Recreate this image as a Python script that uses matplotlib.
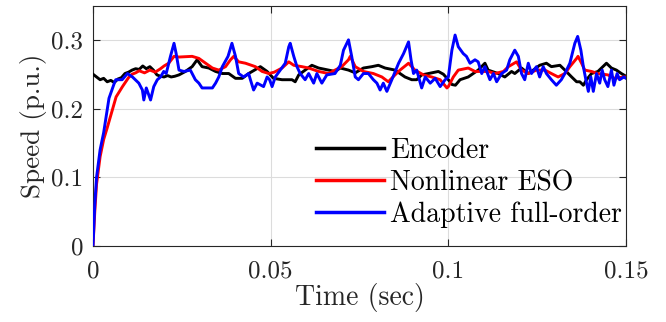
import matplotlib
matplotlib.use("Agg")
import matplotlib.pyplot as plt
import numpy as np

# ---------------- data ----------------
t_enc = [0.0000, 0.0010, 0.0020, 0.0030, 0.0040, 0.0050, 0.0060, 0.0070, 0.0080, 0.0090,
         0.0100, 0.0110, 0.0120, 0.0130, 0.0140, 0.0150, 0.0160, 0.0170, 0.0180, 0.0190,
         0.0200, 0.0210, 0.0220, 0.0230, 0.0242, 0.0260, 0.0279, 0.0293, 0.0307, 0.0326,
         0.0345, 0.0364, 0.0382, 0.0401, 0.0420, 0.0438, 0.0471, 0.0490, 0.0508, 0.0532,
         0.0560, 0.0569, 0.0579, 0.0597, 0.0616, 0.0635, 0.0663, 0.0681, 0.0696, 0.0719,
         0.0738, 0.0761, 0.0785, 0.0803, 0.0822, 0.0850, 0.0864, 0.0878, 0.0897, 0.0911,
         0.0925, 0.0944, 0.0972, 0.0986, 0.1000, 0.1010, 0.1020, 0.1033, 0.1056, 0.1084,
         0.1103, 0.1112, 0.1140, 0.1159, 0.1178, 0.1187, 0.1206, 0.1225, 0.1239, 0.1257,
         0.1276, 0.1290, 0.1314, 0.1328, 0.1347, 0.1361, 0.1370, 0.1380, 0.1389, 0.1403,
         0.1421, 0.1435, 0.1445, 0.1459, 0.1473, 0.1487, 0.1500]
v_enc = [0.250, 0.246, 0.242, 0.244, 0.239, 0.241, 0.238, 0.243, 0.245, 0.251,
         0.253, 0.256, 0.258, 0.257, 0.262, 0.258, 0.261, 0.256, 0.249, 0.247,
         0.246, 0.248, 0.246, 0.247, 0.249, 0.254, 0.261, 0.271, 0.261, 0.259,
         0.254, 0.251, 0.251, 0.244, 0.244, 0.251, 0.261, 0.254, 0.244, 0.242,
         0.242, 0.239, 0.249, 0.256, 0.263, 0.259, 0.256, 0.254, 0.259, 0.256,
         0.252, 0.259, 0.261, 0.263, 0.259, 0.256, 0.251, 0.246, 0.242, 0.242,
         0.249, 0.251, 0.254, 0.250, 0.242, 0.235, 0.234, 0.242, 0.246, 0.256,
         0.266, 0.256, 0.251, 0.246, 0.254, 0.251, 0.259, 0.251, 0.256, 0.263,
         0.266, 0.261, 0.263, 0.256, 0.246, 0.239, 0.239, 0.234, 0.242, 0.251,
         0.254, 0.261, 0.266, 0.259, 0.256, 0.251, 0.247]

t_eso = [0.0000, 0.0005, 0.0010, 0.0020, 0.0030, 0.0040, 0.0050, 0.0065, 0.0083, 0.0100,
         0.0110, 0.0120, 0.0130, 0.0145, 0.0160, 0.0175, 0.0190, 0.0200, 0.0213, 0.0228,
         0.0242, 0.0279, 0.0298, 0.0317, 0.0336, 0.0354, 0.0373, 0.0387, 0.0396, 0.0410,
         0.0429, 0.0457, 0.0476, 0.0495, 0.0510, 0.0532, 0.0551, 0.0565, 0.0588, 0.0607,
         0.0635, 0.0663, 0.0681, 0.0700, 0.0719, 0.0724, 0.0738, 0.0761, 0.0789, 0.0813,
         0.0831, 0.0850, 0.0864, 0.0888, 0.0906, 0.0930, 0.0953, 0.0977, 0.0996, 0.1000,
         0.1014, 0.1028, 0.1056, 0.1075, 0.1112, 0.1131, 0.1155, 0.1169, 0.1192, 0.1206,
         0.1225, 0.1248, 0.1272, 0.1290, 0.1309, 0.1328, 0.1342, 0.1361, 0.1365, 0.1375,
         0.1384, 0.1403, 0.1421, 0.1449, 0.1468, 0.1494, 0.1500]
v_eso = [0.000, 0.050, 0.090, 0.130, 0.155, 0.172, 0.190, 0.217, 0.232, 0.245,
         0.250, 0.252, 0.255, 0.252, 0.256, 0.253, 0.258, 0.262, 0.266, 0.276,
         0.275, 0.276, 0.273, 0.266, 0.259, 0.256, 0.261, 0.271, 0.276, 0.268,
         0.266, 0.261, 0.254, 0.251, 0.253, 0.259, 0.268, 0.263, 0.261, 0.259,
         0.254, 0.251, 0.256, 0.261, 0.271, 0.276, 0.261, 0.254, 0.251, 0.246,
         0.239, 0.249, 0.256, 0.266, 0.256, 0.249, 0.246, 0.242, 0.230, 0.232,
         0.246, 0.256, 0.259, 0.254, 0.254, 0.251, 0.254, 0.261, 0.268, 0.256,
         0.251, 0.256, 0.256, 0.251, 0.246, 0.251, 0.261, 0.273, 0.276, 0.266,
         0.256, 0.254, 0.251, 0.249, 0.244, 0.246, 0.246]

t_afo = [0.0000, 0.0005, 0.0010, 0.0020, 0.0030, 0.0045, 0.0060, 0.0064, 0.0082, 0.0097,
         0.0111, 0.0129, 0.0139, 0.0143, 0.0150, 0.0162, 0.0171, 0.0181, 0.0190, 0.0199,
         0.0206, 0.0218, 0.0228, 0.0234, 0.0242, 0.0256, 0.0274, 0.0288, 0.0298, 0.0307,
         0.0336, 0.0345, 0.0354, 0.0364, 0.0380, 0.0391, 0.0401, 0.0410, 0.0424, 0.0438,
         0.0443, 0.0452, 0.0462, 0.0480, 0.0490, 0.0497, 0.0504, 0.0513, 0.0527, 0.0541,
         0.0551, 0.0555, 0.0565, 0.0574, 0.0583, 0.0597, 0.0607, 0.0621, 0.0630, 0.0644,
         0.0658, 0.0681, 0.0696, 0.0705, 0.0719, 0.0728, 0.0738, 0.0747, 0.0761, 0.0775,
         0.0789, 0.0799, 0.0808, 0.0817, 0.0827, 0.0841, 0.0860, 0.0874, 0.0888, 0.0895,
         0.0902, 0.0911, 0.0925, 0.0935, 0.0949, 0.0963, 0.0977, 0.0991, 0.1000, 0.1010,
         0.1019, 0.1028, 0.1042, 0.1051, 0.1061, 0.1075, 0.1084, 0.1094, 0.1103, 0.1117,
         0.1127, 0.1136, 0.1150, 0.1164, 0.1173, 0.1187, 0.1197, 0.1206, 0.1215, 0.1225,
         0.1234, 0.1248, 0.1257, 0.1267, 0.1276, 0.1290, 0.1304, 0.1318, 0.1328, 0.1342,
         0.1356, 0.1364, 0.1373, 0.1380, 0.1387, 0.1394, 0.1401, 0.1408, 0.1417, 0.1426,
         0.1433, 0.1440, 0.1449, 0.1459, 0.1466, 0.1475, 0.1482, 0.1494, 0.1500]
v_afo = [0.000, 0.060, 0.100, 0.140, 0.165, 0.215, 0.237, 0.242, 0.242, 0.251,
         0.246, 0.237, 0.227, 0.2125, 0.230, 0.2125, 0.232, 0.242, 0.246, 0.254,
         0.251, 0.276, 0.295, 0.280, 0.256, 0.254, 0.256, 0.242, 0.237, 0.230,
         0.230, 0.237, 0.246, 0.261, 0.276, 0.295, 0.276, 0.251, 0.246, 0.251,
         0.242, 0.227, 0.237, 0.232, 0.246, 0.242, 0.232, 0.246, 0.256, 0.266,
         0.290, 0.295, 0.276, 0.261, 0.251, 0.242, 0.251, 0.237, 0.251, 0.237,
         0.249, 0.251, 0.263, 0.285, 0.300, 0.276, 0.246, 0.242, 0.251, 0.251,
         0.242, 0.237, 0.227, 0.237, 0.225, 0.242, 0.266, 0.280, 0.297, 0.271,
         0.251, 0.256, 0.230, 0.246, 0.237, 0.244, 0.232, 0.242, 0.246, 0.285,
         0.307, 0.290, 0.280, 0.276, 0.266, 0.271, 0.268, 0.251, 0.261, 0.242,
         0.251, 0.239, 0.251, 0.256, 0.271, 0.285, 0.276, 0.251, 0.242, 0.266,
         0.251, 0.261, 0.246, 0.261, 0.251, 0.242, 0.234, 0.242, 0.251, 0.266,
         0.295, 0.305, 0.285, 0.261, 0.242, 0.225, 0.246, 0.225, 0.251, 0.237,
         0.256, 0.242, 0.232, 0.256, 0.234, 0.251, 0.242, 0.246, 0.244]

labels = ["Encoder", "Nonlinear ESO", "Adaptive full-order"]
colors = ["#000000", "#ff0000", "#0000ff"]
xticks = [0, 0.05, 0.1, 0.15]
xticklabels = ["0", "0.05", "0.1", "0.15"]
yticks = [0, 0.1, 0.2, 0.3]
yticklabels = ["0", "0.1", "0.2", "0.3"]

# ---------------- style ----------------
plt.rcParams['font.family'] = ['cmr10', 'DejaVu Serif']
plt.rcParams['mathtext.fontset'] = 'cm'
plt.rcParams['axes.formatter.use_mathtext'] = True

fig = plt.figure(figsize=(6.66, 3.22), dpi=100)
ax = fig.add_axes([93/666, 1-246/322, (626-93)/666, (246-5.5)/322])

lw = 2.1
ax.plot(t_enc, v_enc, color=colors[0], lw=lw, label=labels[0], zorder=3)
ax.plot(t_eso, v_eso, color=colors[1], lw=lw, label=labels[1], zorder=4)
ax.plot(t_afo, v_afo, color=colors[2], lw=lw, label=labels[2], zorder=5)

ax.set_xlim(0, 0.15)
ax.set_ylim(0, 0.35)
ax.set_xticks(xticks)
ax.set_xticklabels(xticklabels)
ax.set_yticks(yticks)
ax.set_yticklabels(yticklabels)
ax.grid(True, color='#dcdcdc', lw=0.8)
ax.set_axisbelow(True)
ax.tick_params(direction='in', length=5, width=0.8, colors='#262626',
               labelsize=18, top=True, right=True)
ax.tick_params(axis='x', pad=10)
ax.tick_params(axis='y', pad=7)
for s in ax.spines.values():
    s.set_color('#262626')
    s.set_linewidth(0.8)

ax.set_xlabel("Time (sec)", fontsize=20, color='#262626', labelpad=1)
ax.set_ylabel("Speed (p.u.)", fontsize=19.5, color='#262626', labelpad=3)

leg = ax.legend(loc='center left', bbox_to_anchor=(316/666, 1-183/322),
                bbox_transform=fig.transFigure, frameon=False, fontsize=20,
                handlelength=2.45, handletextpad=0.22, labelspacing=0.2,
                borderaxespad=0, borderpad=0)
for line in leg.get_lines():
    line.set_linewidth(2.5)

fig.savefig("out.png", dpi=100)
